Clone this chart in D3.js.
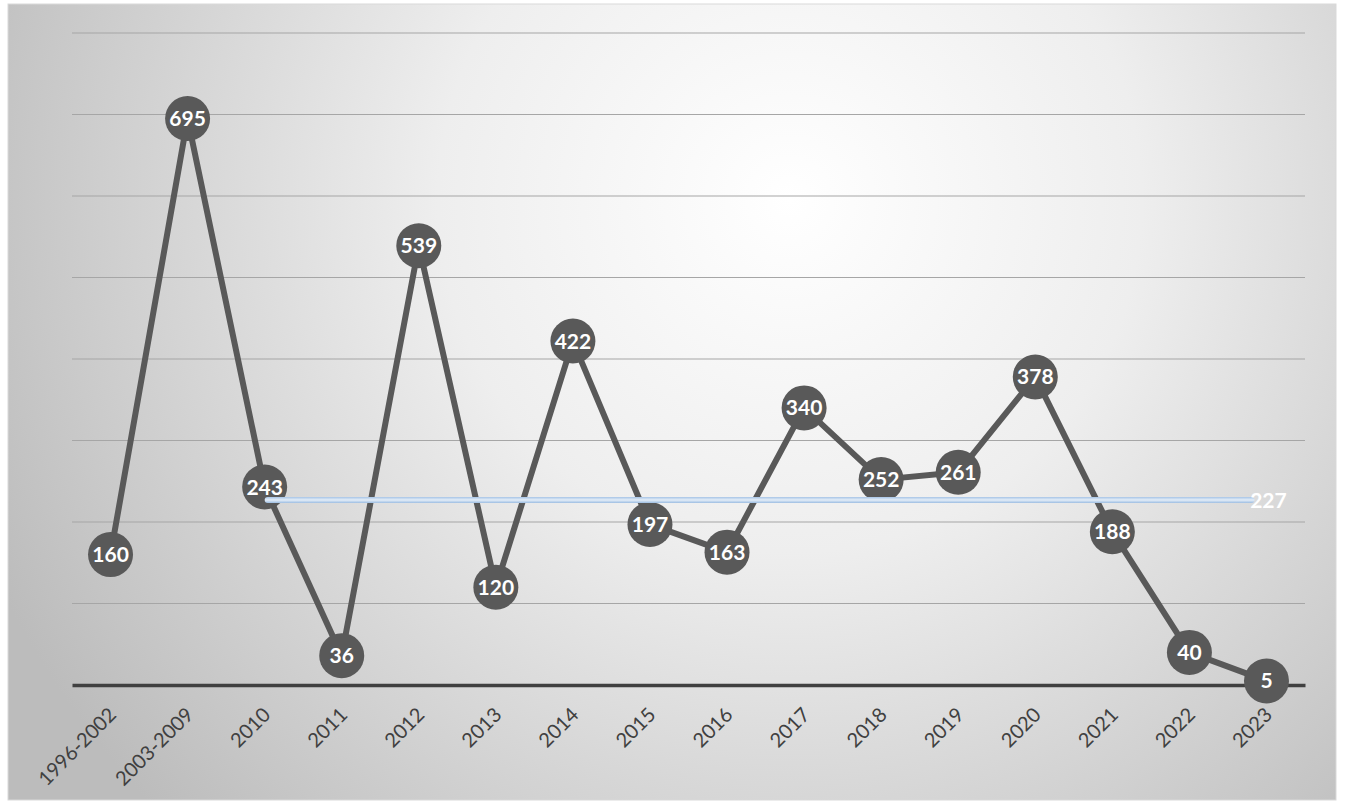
<!DOCTYPE html>
<html>
<head>
<meta charset="utf-8">
<script src="https://cdn.jsdelivr.net/npm/d3@7/dist/d3.min.js"></script>
<style>
  html, body { margin: 0; padding: 0; background: #ffffff; }
  svg { display: block; }
</style>
</head>
<body>
<svg id="chart" width="1345" height="810"></svg>
<script>
// Yearly counts
const categories = ["1996-2002", "2003-2009", "2010", "2011", "2012", "2013", "2014", "2015",
                    "2016", "2017", "2018", "2019", "2020", "2021", "2022", "2023"];
const values = [160, 695, 243, 36, 539, 120, 422, 197, 163, 340, 252, 261, 378, 188, 40, 5];
const averageValue = 227;
const averageFrom = "2010";
const averageTo = "2023";
const yTicks = [0, 100, 200, 300, 400, 500, 600, 700, 800];

const svg = d3.select("#chart");
const frame = { x: 8, y: 4, w: 1328, h: 796 };
const plot = { left: 72, right: 1305, top: 33, bottom: 685 };
const font = "Lato, 'Open Sans', sans-serif";

// Background with radial shading
const defs = svg.append("defs");
const grad = defs.append("radialGradient")
  .attr("id", "bg").attr("gradientUnits", "userSpaceOnUse")
  .attr("cx", 790).attr("cy", 200).attr("r", 880);
grad.append("stop").attr("offset", "0%").attr("stop-color", "#ffffff");
grad.append("stop").attr("offset", "40%").attr("stop-color", "#eeeeee");
grad.append("stop").attr("offset", "100%").attr("stop-color", "#bcbcbc");

const avgGrad = defs.append("linearGradient")
  .attr("id", "avg").attr("x1", 0).attr("y1", 0).attr("x2", 0).attr("y2", 1);
avgGrad.append("stop").attr("offset", "0%").attr("stop-color", "#a7c4e6");
avgGrad.append("stop").attr("offset", "50%").attr("stop-color", "#e4eef8");
avgGrad.append("stop").attr("offset", "100%").attr("stop-color", "#9dbde2");

svg.append("rect")
  .attr("x", frame.x).attr("y", frame.y).attr("width", frame.w).attr("height", frame.h)
  .attr("fill", "url(#bg)").attr("stroke", "#d9d9d9").attr("stroke-width", 1);

const x = d3.scaleBand().domain(categories).range([plot.left, plot.right]);
const xc = d => x(d) + x.bandwidth() / 2;
const y = d3.scaleLinear().domain([0, 800]).range([plot.bottom, plot.top]);

// Horizontal gridlines
svg.append("g").selectAll("line")
  .data(yTicks.filter(t => t > 0))
  .join("line")
  .attr("x1", plot.left).attr("x2", plot.right)
  .attr("y1", d => y(d)).attr("y2", d => y(d))
  .attr("stroke", "#a6a6a6").attr("stroke-width", 1.2);

// Category axis
const xAxis = svg.append("g")
  .attr("transform", `translate(0,${plot.bottom})`)
  .call(d3.axisBottom(x).tickSize(0).tickPadding(0));
xAxis.attr("font-family", font).attr("font-size", 20);
xAxis.select(".domain").attr("stroke", "#404040").attr("stroke-width", 3.5);
xAxis.selectAll("text")
  .attr("fill", "#404040")
  .attr("text-anchor", "end")
  .attr("y", 0)
  .attr("dy", 0)
  .attr("transform", "translate(7,31) rotate(-45)");

// Series line
const line = d3.line().x((d, i) => xc(categories[i])).y(d => y(d));
svg.append("path")
  .datum(values)
  .attr("d", line)
  .attr("fill", "none")
  .attr("stroke", "#595959")
  .attr("stroke-width", 6)
  .attr("stroke-linejoin", "round");

// Markers
const markers = svg.append("g").selectAll("g")
  .data(values.map((v, i) => ({ v, c: categories[i] })))
  .join("g")
  .attr("transform", d => `translate(${xc(d.c)},${y(d.v)})`);

markers.append("circle")
  .attr("r", 22.5)
  .attr("fill", "#595959");

// Average line
const ay = y(averageValue);
svg.append("rect")
  .attr("x", xc(averageFrom)).attr("y", ay - 3)
  .attr("width", xc(averageTo) - 12 - xc(averageFrom)).attr("height", 6)
  .attr("rx", 3)
  .attr("fill", "url(#avg)");

svg.append("text")
  .attr("x", xc(averageTo) + 2).attr("y", ay)
  .attr("dy", "0.36em")
  .attr("text-anchor", "middle")
  .attr("font-family", font)
  .attr("font-weight", 700)
  .attr("font-size", 21)
  .attr("fill", "#ffffff")
  .text(averageValue);

// Value labels
markers.append("text")
  .attr("text-anchor", "middle")
  .attr("dy", "0.36em")
  .attr("font-family", font)
  .attr("font-weight", 700)
  .attr("font-size", 21)
  .attr("fill", "#ffffff")
  .text(d => d.v);
</script>
</body>
</html>
